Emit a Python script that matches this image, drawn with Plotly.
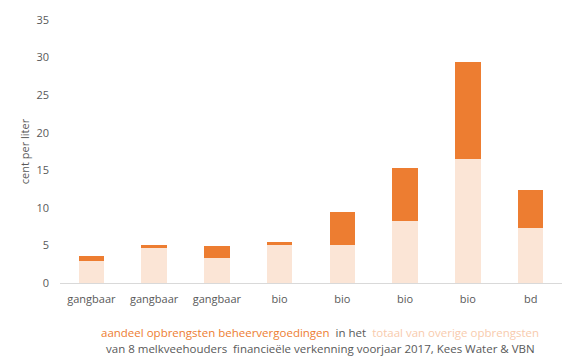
import plotly.graph_objects as go

categories = ["gangbaar", "gangbaar", "gangbaar", "bio", "bio", "bio", "bio", "bd"]
overige = [2.9, 4.6, 3.3, 5.0, 5.1, 8.3, 16.5, 7.3]
beheer = [0.7, 0.5, 1.6, 0.5, 4.3, 7.0, 12.9, 5.1]
y_ticks = [0, 5, 10, 15, 20, 25, 30, 35]

x = list(range(len(categories)))

fig = go.Figure()
fig.add_trace(go.Bar(x=x, y=overige, marker=dict(color="#FBE5D6", line=dict(width=0)),
                     name="totaal van overige opbrengsten"))
fig.add_trace(go.Bar(x=x, y=beheer, marker=dict(color="#ED7D31", line=dict(width=0)),
                     name="aandeel opbrengsten beheervergoedingen"))

font = "Open Sans, Liberation Sans, sans-serif"
W, H = 576, 359
L, R, T, B = 60, 14, 16, 76
pw, ph = W - L - R, H - T - B
fig.update_layout(
    barmode="stack",
    bargap=0.59,
    width=W, height=H,
    margin=dict(l=L, r=R, t=T, b=B),
    paper_bgcolor="white", plot_bgcolor="white",
    showlegend=False,
    font=dict(family=font, size=11, color="#595959"),
    xaxis=dict(tickmode="array", tickvals=x, ticktext=categories,
               range=[-0.5, len(categories) - 0.5],
               showline=True, linecolor="#D9D9D9", linewidth=1,
               showgrid=False, ticks="", zeroline=False, ticklabelstandoff=6,
               tickfont=dict(size=11, color="#595959")),
    yaxis=dict(range=[0, 35], tickvals=y_ticks, showgrid=False, zeroline=False,
               showline=False, ticks="", ticklabelstandoff=10,
               tickfont=dict(size=11, color="#595959"),
               title=dict(text="cent per liter", font=dict(size=11, color="#595959"), standoff=4)),
    annotations=[
        dict(xref="paper", yref="paper", x=(320 - L) / pw, y=-(333 - (H - B)) / ph,
             xanchor="center", yanchor="middle", showarrow=False,
             text="<span style='color:#ED7D31'>aandeel opbrengsten beheervergoedingen</span>"
                  "  in het  <span style='color:#F8CBAD'>totaal van overige opbrengsten</span>",
             font=dict(size=11.5, color="#595959")),
        dict(xref="paper", yref="paper", x=(320 - L) / pw, y=-(349 - (H - B)) / ph,
             xanchor="center", yanchor="middle", showarrow=False,
             text="van 8 melkveehouders  financieële verkenning voorjaar 2017, Kees Water &amp; VBN",
             font=dict(size=11.5, color="#595959")),
    ],
)

fig.write_html("out.html", config={"displayModeBar": False},
               post_script="document.body.style.margin='0';document.body.style.overflow='hidden';")
